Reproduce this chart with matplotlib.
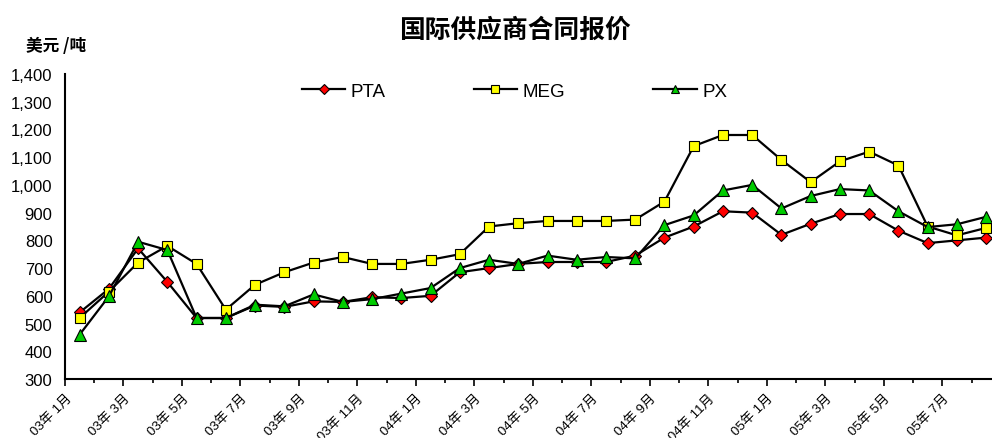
import matplotlib
matplotlib.use("Agg")
import matplotlib.pyplot as plt
from matplotlib.ticker import FuncFormatter, MultipleLocator, FixedLocator

plt.rcParams['font.family'] = ['Liberation Sans', 'Noto Sans CJK SC', 'DejaVu Sans']

# data ================================================================
months = ["03年 1月", "03年 2月", "03年 3月", "03年 4月", "03年 5月", "03年 6月",
          "03年 7月", "03年 8月", "03年 9月", "03年 10月", "03年 11月", "03年 12月",
          "04年 1月", "04年 2月", "04年 3月", "04年 4月", "04年 5月", "04年 6月",
          "04年 7月", "04年 8月", "04年 9月", "04年 10月", "04年 11月", "04年 12月",
          "05年 1月", "05年 2月", "05年 3月", "05年 4月", "05年 5月", "05年 6月",
          "05年 7月", "05年 8月"]
pta = [540, 625, 771, 650, 520, 520, 565, 560, 580, 578, 595, 592,
       600, 685, 700, 715, 722, 722, 722, 745, 810, 850, 905, 900,
       820, 860, 895, 895, 835, 790, 800, 810]
meg = [520, 615, 720, 780, 715, 550, 640, 685, 720, 740, 715, 715,
       730, 750, 850, 862, 870, 870, 870, 875, 940, 1140, 1180, 1180,
       1090, 1010, 1085, 1120, 1070, 850, 818, 845]
px = [460, 598, 795, 765, 520, 520, 568, 562, 605, 578, 588, 608,
      628, 700, 730, 715, 745, 730, 740, 735, 855, 890, 980, 1000,
      915, 960, 985, 980, 905, 848, 858, 885]

# layout ==============================================================
fig = plt.figure(figsize=(9.92, 4.39), dpi=100)
ax = fig.add_axes([65/992, 1-380/439, 1-65/992, (380-75)/439])

x = list(range(len(months)))
ax.plot(x, pta, color='black', lw=1.6, marker='D', ms=6.5,
        mfc='#ff0000', mec='black', mew=0.8, label='PTA')
ax.plot(x, meg, color='black', lw=1.6, marker='s', ms=7,
        mfc='#ffff00', mec='black', mew=0.8, label='MEG')
ax.plot(x, px, color='black', lw=1.6, marker='^', ms=8,
        mfc='#00cc00', mec='black', mew=0.8, label='PX')

ax.set_ylim(300, 1400)
ax.set_xlim(-0.5, 31.2)
ax.yaxis.set_major_locator(MultipleLocator(100))
ax.yaxis.set_major_formatter(FuncFormatter(lambda v, p: f"{int(v):,}"))
ax.tick_params(axis='y', length=0, pad=9, labelsize=12)

# category boundaries as ticks, labels every 2 months
major = [i - 0.5 for i in range(0, len(months), 2)]
minor = [i - 0.5 for i in range(1, len(months), 2)]
ax.xaxis.set_major_locator(FixedLocator(major))
ax.xaxis.set_minor_locator(FixedLocator(minor))
ax.set_xticklabels(months[::2], rotation=45, ha='right', rotation_mode='anchor')
ax.tick_params(axis='x', which='major', length=5, width=1.2, pad=4, labelsize=9.5)
ax.tick_params(axis='x', which='minor', length=3, width=1.2)

for s in ['top', 'right']:
    ax.spines[s].set_visible(False)
for s in ['left', 'bottom']:
    ax.spines[s].set_linewidth(1.5)

fig.text(515/992, 1-30/439, '国际供应商合同报价', ha='center', va='center',
         fontsize=18.5, fontweight='bold', family=['Noto Sans CJK SC'])
fig.text(26/992, 1-46/439, '美元 /吨', ha='left', va='center',
         fontsize=12, fontweight='bold', family=['Noto Sans CJK SC'])

fig.legend(loc='center left', bbox_to_anchor=(302/992, 1-92/439), ncol=3,
           frameon=False, fontsize=13.5, handlelength=2.3, handletextpad=0.3,
           columnspacing=4.7, borderpad=0, borderaxespad=0, markerscale=0.8)

fig.savefig('out.png', dpi=100)
